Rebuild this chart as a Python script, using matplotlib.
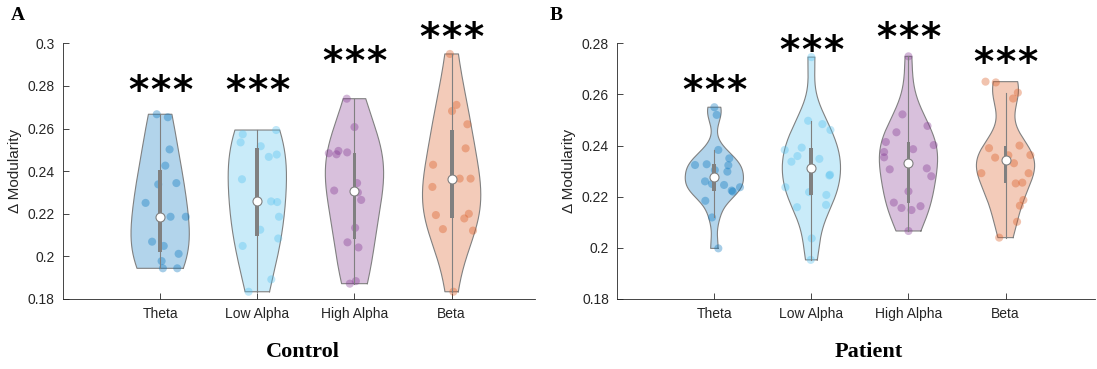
import numpy as np
import matplotlib
matplotlib.use("Agg")
import matplotlib.pyplot as plt
from matplotlib.ticker import FuncFormatter

# ---------------------------------------------------------------- data
bands = ["Theta", "Low Alpha", "High Alpha", "Beta"]
band_colors = [(0.000, 0.447, 0.741), (0.301, 0.745, 0.933),
               (0.494, 0.184, 0.556), (0.850, 0.325, 0.098)]

control_theta = [0.2667, 0.2653, 0.2502, 0.2426, 0.2338, 0.2344, 0.2251, 0.2186,
                 0.2186, 0.2069, 0.2049, 0.2012, 0.1978, 0.1944, 0.1944]
control_low_alpha = [0.2593, 0.2573, 0.2535, 0.2517, 0.2467, 0.2478, 0.2362, 0.2258,
                     0.2255, 0.2186, 0.2125, 0.2084, 0.2049, 0.1892, 0.1834]
control_high_alpha = [0.2740, 0.2607, 0.2484, 0.2479, 0.2495, 0.2488, 0.2344, 0.2309,
                      0.2300, 0.2265, 0.2134, 0.2066, 0.2042, 0.1884, 0.1872]
control_beta = [0.2950, 0.2711, 0.2682, 0.2620, 0.2507, 0.2430, 0.2326, 0.2365,
                0.2365, 0.2194, 0.2200, 0.2178, 0.2128, 0.2121, 0.1834]

patient_theta = [0.2550, 0.2520, 0.2383, 0.2324, 0.2327, 0.2350, 0.2323, 0.2298, 0.2304,
                 0.2260, 0.2250, 0.2246, 0.2224, 0.2220, 0.2237, 0.2184, 0.2119, 0.1998]
patient_low_alpha = [0.2746, 0.2497, 0.2484, 0.2461, 0.2383, 0.2392, 0.2359, 0.2337, 0.2348,
                     0.2286, 0.2283, 0.2237, 0.2218, 0.2207, 0.2168, 0.2159, 0.2037, 0.1953]
patient_high_alpha = [0.2749, 0.2522, 0.2477, 0.2452, 0.2414, 0.2402, 0.2386, 0.2375, 0.2354,
                      0.2311, 0.2307, 0.2280, 0.2221, 0.2177, 0.2156, 0.2163, 0.2148, 0.2066]
patient_beta = [0.2650, 0.2647, 0.2607, 0.2584, 0.2390, 0.2400, 0.2353, 0.2362, 0.2363,
                0.2331, 0.2292, 0.2292, 0.2252, 0.2255, 0.2187, 0.2165, 0.2102, 0.2040]

# horizontal scatter of the individual subjects around each violin centre
control_theta_dx = [-0.035, 0.079, 0.097, 0.053, -0.020, 0.167, -0.150, 0.107,
                    0.264, -0.083, 0.037, 0.190, 0.015, 0.028, 0.176]
control_low_alpha_dx = [0.194, -0.150, -0.172, 0.035, 0.118, 0.200, -0.158, 0.142,
                        0.205, 0.223, 0.030, 0.215, -0.151, 0.144, -0.090]
control_high_alpha_dx = [-0.079, 0.000, -0.264, -0.185, -0.165, -0.075, 0.027, -0.209,
                         0.035, 0.069, 0.007, -0.072, 0.041, 0.014, -0.048]
control_beta_dx = [-0.018, 0.050, 0.004, 0.162, 0.144, -0.191, -0.198, 0.083,
                   0.195, -0.162, 0.177, 0.130, -0.090, 0.220, 0.018]

patient_theta_dx = [0.000, 0.024, 0.041, -0.199, -0.079, 0.154, 0.144, 0.134, 0.005,
                    -0.096, -0.024, 0.100, 0.179, 0.190, 0.264, -0.093, -0.024, 0.041]
patient_low_alpha_dx = [0.000, -0.034, 0.113, 0.196, -0.275, -0.100, -0.144, -0.206, 0.082,
                        0.192, 0.185, -0.268, -0.024, 0.154, 0.151, -0.148, 0.003, -0.007]
patient_high_alpha_dx = [0.000, -0.062, 0.196, -0.124, -0.233, 0.260, 0.048, -0.251, -0.251,
                         0.189, -0.193, 0.235, 0.000, -0.151, -0.072, 0.124, 0.031, 0.000]
patient_beta_dx = [-0.206, -0.100, 0.127, 0.078, -0.170, 0.144, -0.107, 0.029, 0.256,
                   0.087, -0.249, 0.238, 0.105, 0.173, 0.184, 0.148, 0.119, -0.065]

control_star_y = [0.2817, 0.2817, 0.2953, 0.3064]
patient_star_y = [0.2646, 0.2803, 0.2856, 0.2758]
star_count = 3

# ---------------------------------------------------------------- style
plt.rcParams["font.family"] = ["Liberation Sans", "DejaVu Sans"]
AX_COLOR = "#262626"
GREY = (0.5, 0.5, 0.5)
VIOLIN_WIDTH = 0.3
BOX_HALF = 0.02
STAR_STEP = 16.0   # points between neighbouring asterisks


def ksdensity(x, grid):
    """Gaussian kernel density with Silverman's rule on a robust sigma."""
    n = len(x)
    sig = np.median(np.abs(x - np.median(x))) / 0.6745
    bw = sig * (4.0 / (3.0 * n)) ** 0.2
    z = (grid[:, None] - x[None, :]) / bw
    return np.exp(-0.5 * z ** 2).sum(axis=1) / (n * bw * np.sqrt(2 * np.pi))


def draw_violin(ax, pos, values, dx, color):
    x = np.asarray(values, float)
    grid = np.linspace(x.min(), x.max(), 200)
    dens = ksdensity(x, grid)
    half = dens * VIOLIN_WIDTH / dens.max()
    xs = np.concatenate([pos + half, (pos - half)[::-1]])
    ys = np.concatenate([grid, grid[::-1]])
    ax.fill(xs, ys, facecolor=color, alpha=0.3, edgecolor="none", zorder=1)
    ax.plot(np.append(xs, xs[0]), np.append(ys, ys[0]), color=GREY, lw=0.8, zorder=2)

    ax.scatter(pos + np.asarray(dx), x, s=34, color=color, alpha=0.35,
               edgecolors="none", zorder=3)

    q1, med, q3 = np.percentile(x, [25, 50, 75], method="hazen")
    iqr = q3 - q1
    hi = x[x <= q3 + 1.5 * iqr].max()
    lo = x[x >= q1 - 1.5 * iqr].min()
    ax.plot([pos, pos], [lo, hi], color=GREY, lw=0.8, zorder=4)
    ax.fill([pos - BOX_HALF, pos + BOX_HALF, pos + BOX_HALF, pos - BOX_HALF],
            [q1, q1, q3, q3], color=GREY, lw=0, zorder=5)
    ax.scatter([pos], [med], s=42, color="white", edgecolors=GREY,
               linewidths=0.8, zorder=6)


def style_axes(ax, ylim, yticks, xmax):
    ax.set_xlim(0, xmax)
    ax.set_ylim(*ylim)
    ax.set_yticks(yticks)
    ax.yaxis.set_major_formatter(FuncFormatter(lambda v, _: f"{v:g}"))
    ax.set_xticks(range(1, len(bands) + 1))
    ax.set_xticklabels(bands)
    for side in ("top", "right"):
        ax.spines[side].set_visible(False)
    for side in ("left", "bottom"):
        ax.spines[side].set_color(AX_COLOR)
        ax.spines[side].set_linewidth(0.6)
    ax.tick_params(direction="in", length=4, width=0.6, colors=AX_COLOR,
                   labelsize=10, pad=6)
    ax.set_ylabel("\u0394 Modularity", fontsize=11, color=AX_COLOR, labelpad=4)


def draw_stars(ax, pos, y):
    # the asterisk glyph sits high in its text box, so nudge it down
    for k in range(star_count):
        off = (k - (star_count - 1) / 2) * STAR_STEP
        ax.annotate("*", xy=(pos, y), xytext=(off, -7.0),
                    textcoords="offset points", ha="center", va="center",
                    fontsize=28, fontweight="bold", family="DejaVu Sans",
                    color="black", annotation_clip=False)


fig = plt.figure(figsize=(10.97, 3.69), dpi=100)
W, H = 1097.0, 369.0

axA = fig.add_axes([63 / W, 70 / H, 472 / W, 255.7 / H])
axB = fig.add_axes([617.3 / W, 70 / H, 478 / W, 255.7 / H])

panels = [
    (axA, [control_theta, control_low_alpha, control_high_alpha, control_beta],
     [control_theta_dx, control_low_alpha_dx, control_high_alpha_dx, control_beta_dx],
     control_star_y, (0.18, 0.30), np.arange(0.18, 0.3001, 0.02), 4.858),
    (axB, [patient_theta, patient_low_alpha, patient_high_alpha, patient_beta],
     [patient_theta_dx, patient_low_alpha_dx, patient_high_alpha_dx, patient_beta_dx],
     patient_star_y, (0.18, 0.28), np.arange(0.18, 0.2801, 0.02), 4.925),
]

for ax, groups, spreads, stars, ylim, yticks, xmax in panels:
    for i, (vals, dx, col) in enumerate(zip(groups, spreads, band_colors)):
        draw_violin(ax, i + 1, vals, dx, col)
    style_axes(ax, ylim, yticks, xmax)
    for i, sy in enumerate(stars):
        draw_stars(ax, i + 1, sy)

fig.text(302.8 / W, 1 - 351.7 / H, "Control", ha="center", va="center",
         fontsize=16, fontweight="bold", family="Liberation Serif")
fig.text(869 / W, 1 - 351.7 / H, "Patient", ha="center", va="center",
         fontsize=16, fontweight="bold", family="Liberation Serif")
fig.text(17.5 / W, 1 - 15 / H, "A", ha="center", va="center",
         fontsize=14, fontweight="bold", family="Liberation Serif")
fig.text(556.5 / W, 1 - 15 / H, "B", ha="center", va="center",
         fontsize=14, fontweight="bold", family="Liberation Serif")

fig.savefig("out.png", dpi=100)
